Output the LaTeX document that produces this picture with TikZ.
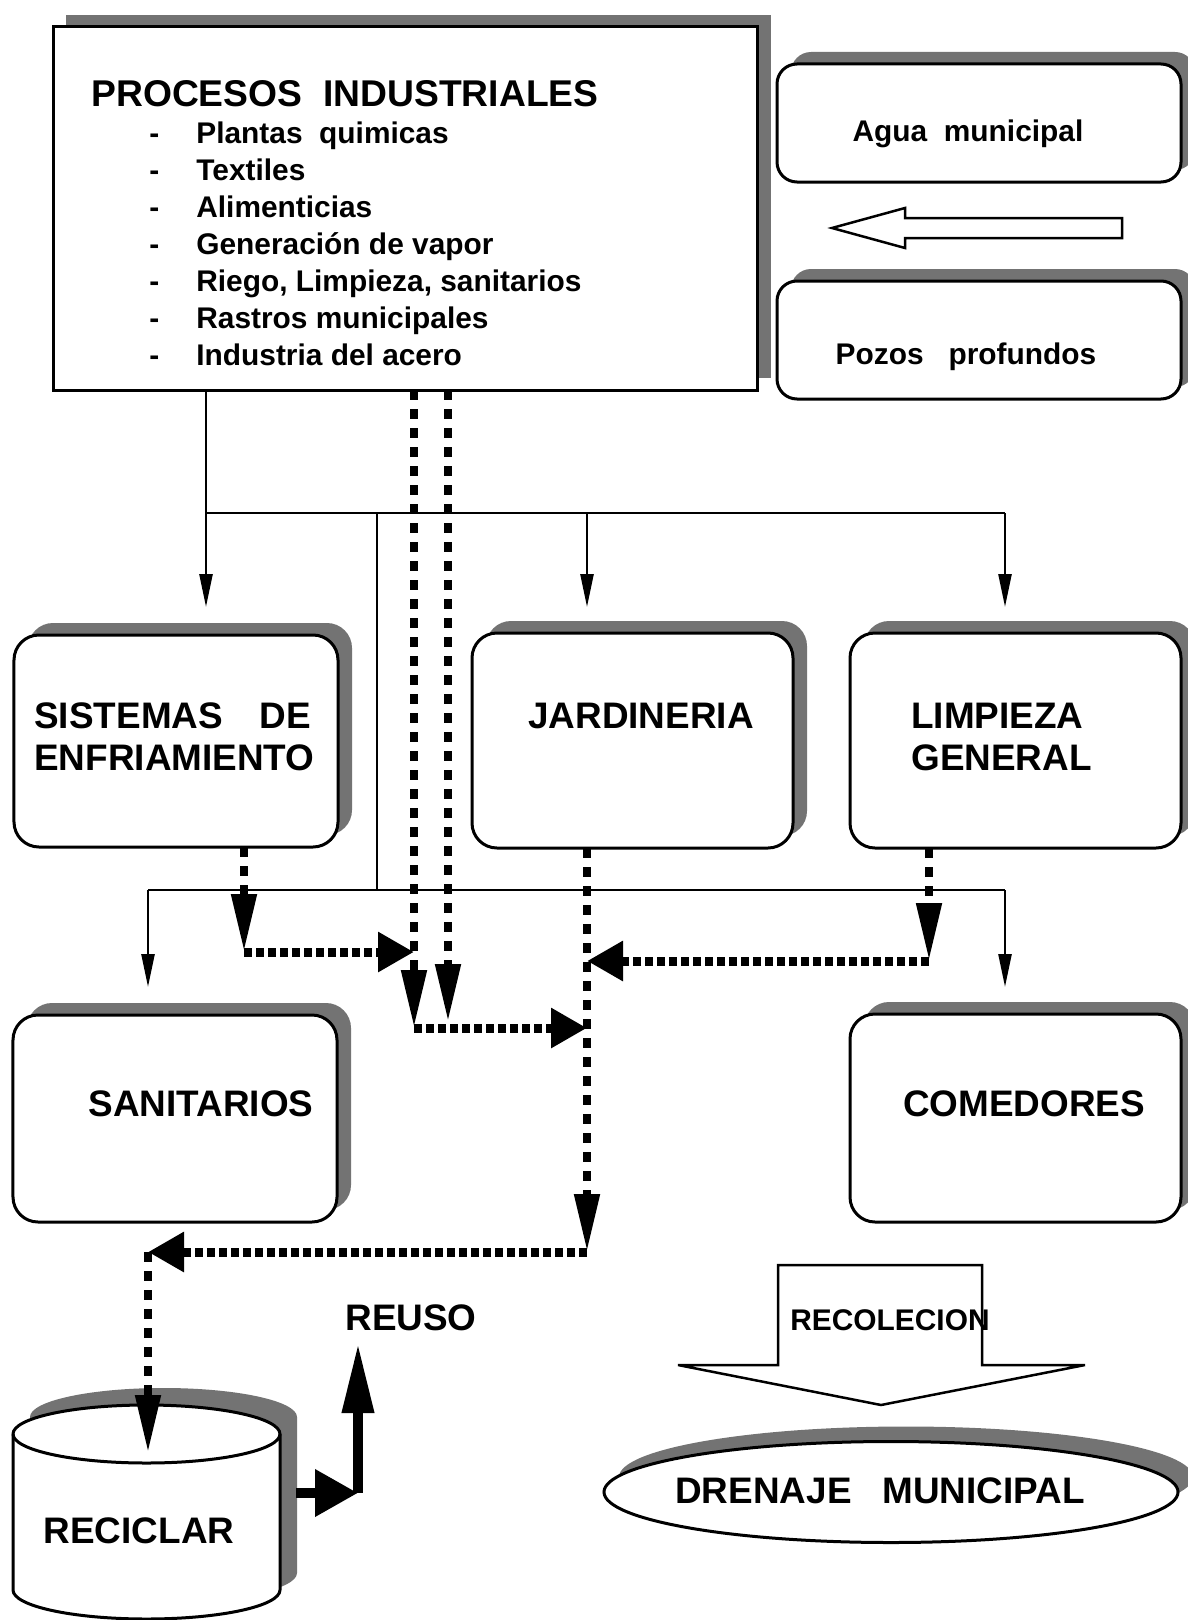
\documentclass[tikz,border=0pt]{standalone}
\usepackage{fontspec}
\setmainfont{Liberation Sans}
\usetikzlibrary{arrows.meta,shadows,shapes.geometric}

\tikzset{
  sombra/.style={general shadow={shadow xshift=2.8mm, shadow yshift=2.4mm, fill=black!55}},
  caja/.style={draw, fill=white, line width=0.6mm, rounded corners=5mm, inner sep=0pt, outer sep=0pt, sombra},
  grande/.style={inner sep=0pt, font=\bfseries\fontsize{21}{25}\selectfont},
  chica/.style={inner sep=0pt, font=\bfseries\fontsize{17}{20}\selectfont},
  linea/.style={line width=0.5mm},
  borde/.style={line width=0.6mm},
  flecha/.style={linea, -{Triangle[length=6.6mm, width=2.6mm]}},
  bajada/.style={line width=1.6mm, dash pattern=on 2mm off 1.8mm, -{Triangle[length=11.6mm, width=4.8mm]}},
  lateral/.style={line width=1.8mm, dash pattern=on 1.6mm off 0.8mm, -{Triangle[length=7.2mm, width=7.6mm]}},
  gruesa/.style={line width=2mm},
}

\begin{document}
\begin{tikzpicture}[x=0.2mm, y=-0.2mm]
    \useasboundingbox (0,0) rectangle (1188,1620);

    % Procesos industriales
    \node[caja, sharp corners, general shadow={shadow xshift=2.4mm, shadow yshift=2.4mm, fill=black!55},
          minimum width=140.6mm, minimum height=72.6mm] (proc) at (405.5,208.5) {};
    \node[grande, font=\bfseries\fontsize{21.2}{25}\selectfont, anchor=base west] (titulo) at (91,107) {PROCESOS\ \ INDUSTRIALES};
    \foreach \txt [count=\i] in {Plantas\ \ quimicas, Textiles, Alimenticias, Generación de vapor,
                                 {Riego, Limpieza, sanitarios}, Rastros municipales, Industria del acero} {
        \node[chica, anchor=base west] (guion\i) at (149,106+37*\i) {-};
        \node[chica, anchor=base west] (item\i) at (196,106+37*\i) {\txt};
    }

    % Fuentes de agua
    \node[caja, rounded corners=4mm, minimum width=80.8mm, minimum height=23.6mm] (agua) at (979,123) {};
    \node[chica, anchor=base] (aguatxt) at (968,141) {Agua\ \ municipal};
    \node[caja, rounded corners=4mm, minimum width=80.8mm, minimum height=23.6mm] (pozos) at (979,340) {};
    \node[chica, anchor=base] (pozostxt) at (966,364) {Pozos\ \ \ profundos};
    \draw[linea, fill=white] (1122,218) -- (905,218) -- (905,208) -- (832,228)
        -- (905,248) -- (905,238) -- (1122,238) -- cycle;

    % Usos
    \node[caja, minimum width=64.8mm, minimum height=42.4mm] (sist) at (176,741) {};
    \node[grande, anchor=base west] (sist1) at (34,728) {SISTEMAS\hspace{1em}DE};
    \node[grande, anchor=base west] (sist2) at (34,770) {ENFRIAMIENTO};
    \node[caja, minimum width=64.2mm, minimum height=43mm] (jard) at (632.5,740.5) {};
    \node[grande, anchor=base] (jardtxt) at (641,728) {JARDINERIA};
    \node[caja, minimum width=66.2mm, minimum height=43mm] (limp) at (1015.5,740.5) {};
    \node[grande, anchor=base west] (limp1) at (911,728) {LIMPIEZA};
    \node[grande, anchor=base west] (limp2) at (911,770) {GENERAL};
    \node[caja, minimum width=64.8mm, minimum height=41.4mm] (sanit) at (175,1118.5) {};
    \node[grande, anchor=base] (sanittxt) at (201,1116) {SANITARIOS};
    \node[caja, minimum width=66.2mm, minimum height=41.6mm] (comed) at (1015.5,1118) {};
    \node[grande, anchor=base] (comedtxt) at (1024,1116) {COMEDORES};

    % Reciclar
    \fill[black!55] (30,1417) -- (30,1573)
        arc[start angle=180, end angle=0, x radius=133.5, y radius=29] -- (297,1417)
        arc[start angle=0, end angle=-180, x radius=133.5, y radius=29] -- cycle;
    \draw[borde, fill=white] (13,1434) -- (13,1590)
        arc[start angle=180, end angle=0, x radius=133.5, y radius=29] -- (280,1434)
        arc[start angle=0, end angle=-180, x radius=133.5, y radius=29] -- cycle;
    \draw[borde] (13,1434) arc[start angle=180, end angle=0, x radius=133.5, y radius=29];
    \node[grande, anchor=base] (reciclar) at (139,1543) {RECICLAR};
    \node[grande, anchor=base] (reuso) at (411,1330) {REUSO};

    % Drenaje
    \draw[linea, fill=white] (778,1265) -- (982,1265) -- (982,1365) -- (1085,1365)
        -- (881,1405) -- (678,1365) -- (778,1365) -- cycle;
    \node[chica, anchor=base] (recol) at (890,1330) {RECOLECION};
    \node[ellipse, draw, fill=white, borde, inner sep=0pt, minimum width=114.8mm, minimum height=20.2mm,
          general shadow={shadow xshift=3mm, shadow yshift=3mm, fill=black!55}] (dren) at (891,1492) {};
    \node[grande, anchor=base] (drentxt) at (880,1503) {DRENAJE\ \ \ MUNICIPAL};

    % Lineas de suministro
    \coordinate (t1) at (206,513);
    \coordinate (t2) at (1005,513);
    \coordinate (t3) at (587,513);
    \coordinate (t4) at (377,513);
    \coordinate (b1) at (148,890);
    \coordinate (b2) at (1005,890);
    \coordinate (b3) at (377,890);
    \draw[linea] (proc.south -| t1) -- (t1) -- (t2);
    \draw[flecha, shorten >=5.6mm] (t1) -- (t1 |- sist.north);
    \draw[flecha, shorten >=5.2mm] (t3) -- (t3 |- jard.north);
    \draw[flecha, shorten >=5.2mm] (t2) -- (t2 |- limp.north);
    \draw[linea] (t4) -- (b3);
    \draw[linea] (b1) -- (b2);
    \draw[flecha, shorten >=5.6mm] (b1) -- (b1 |- sanit.north);
    \draw[flecha, shorten >=5.4mm] (b2) -- (b2 |- comed.north);

    % Lineas de desecho
    \coordinate (s1) at (244,952);
    \coordinate (d1) at (414,1028);
    \coordinate (d2) at (448,1022);
    \coordinate (l1) at (929,961);
    \coordinate (j1) at (587,1252);
    \coordinate (r1) at (148,1252);
    \coordinate (r2) at (148,1453);
    \draw[bajada] (s1 |- sist.south) -- (s1);
    \draw[lateral] (s1) -- (s1 -| d1);
    \draw[bajada] (proc.south -| d1) -- (d1);
    \draw[bajada] (proc.south -| d2) -- (d2);
    \draw[lateral] (d1) -- (d1 -| j1);
    \draw[bajada] (l1 |- limp.south) -- (l1);
    \draw[lateral] (l1) -- (l1 -| j1);
    \draw[bajada] (j1 |- jard.south) -- (j1);
    \draw[lateral] (j1) -- (r1);
    \draw[bajada] (r1) -- (r2);

    % Reuso
    \coordinate (u1) at (296,1493);
    \coordinate (u2) at (358,1493);
    \coordinate (u3) at (358,1343);
    \draw[gruesa, -{Triangle[length=8.6mm, width=9mm]}] (u1) -- (u2);
    \draw[gruesa, -{Triangle[length=14mm, width=6mm]}] (u2) -- (u3);
\end{tikzpicture}
\end{document}
